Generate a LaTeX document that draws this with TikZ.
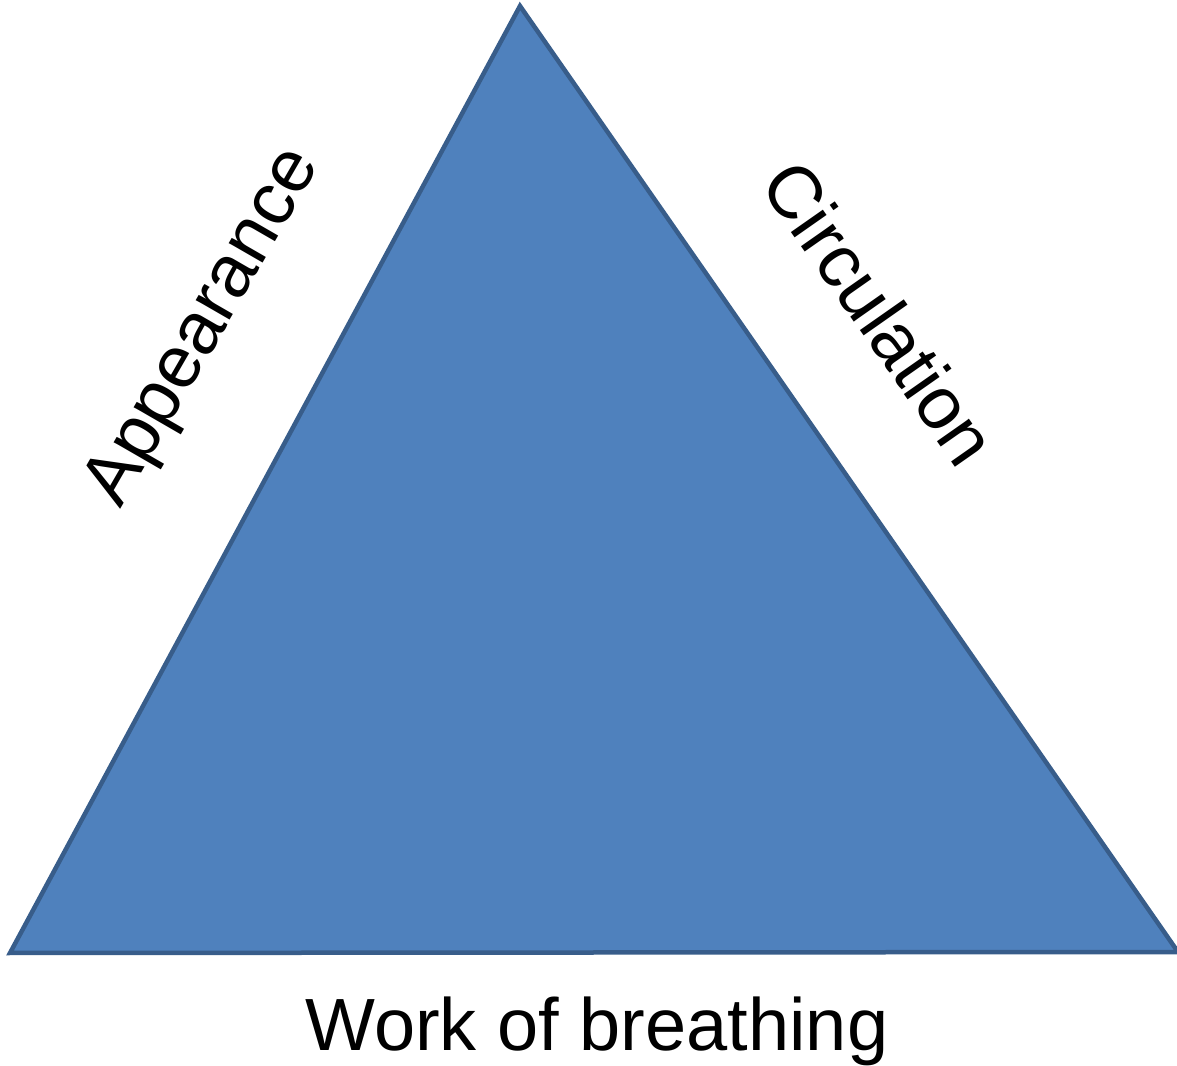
\documentclass[tikz,border=0pt]{standalone}
\usepackage{fontspec}
\setmainfont{Liberation Sans}
\definecolor{trifill}{HTML}{4F81BD}
\definecolor{triedge}{HTML}{385D8A}
\begin{document}
\begin{tikzpicture}[x=1pt,y=1pt,
  tri/.style={fill=trifill,draw=triedge,line width=4.5pt,line join=miter},
  lbl/.style={font=\fontsize{74}{80}\selectfont,inner sep=0pt}]
\useasboundingbox (0,0) rectangle (1177,1065);
\coordinate (top) at (520,1059);
\coordinate (bl) at (10,112);
\coordinate (br) at (1178,113);
\draw[tri] (top) -- (br) -- (bl) -- cycle;
\node[lbl,anchor=base] (wob) at (597,15) {Work of breathing};
\node[lbl,rotate=60] (app) at (205,737) {Appearance};
\node[lbl,rotate=-55] (circ) at (880,752) {Circulation};
\end{tikzpicture}
\end{document}
